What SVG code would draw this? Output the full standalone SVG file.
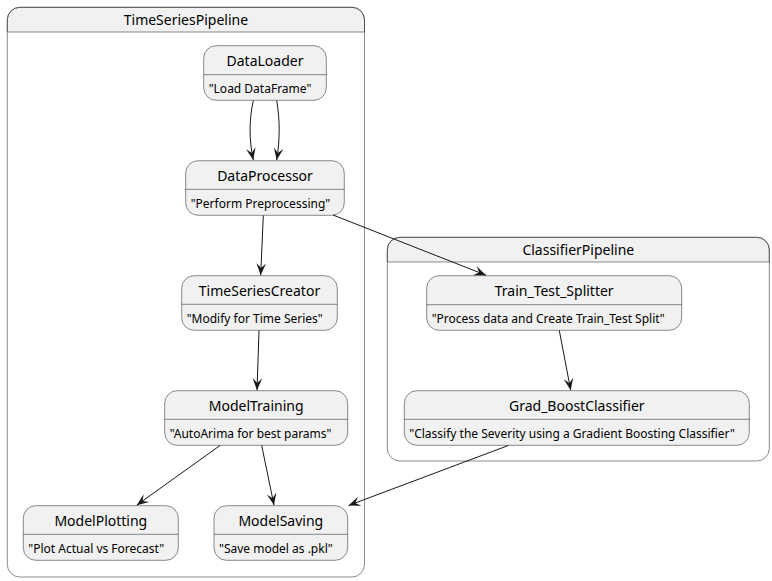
<svg xmlns="http://www.w3.org/2000/svg" width="772" height="581" viewBox="0 0 772 581">
<style>
.box{fill:#F1F1F1;stroke:#181818;stroke-width:0.5}
.cont{fill:none;stroke:#181818;stroke-width:0.5}
.hdr{fill:#F1F1F1;stroke:#181818;stroke-width:0.5}
.div{stroke:#181818;stroke-width:0.5}
.t{font-family:"Noto Sans","DejaVu Sans",sans-serif;font-size:14px;fill:#000;text-anchor:middle}
.d{font-family:"Noto Sans","DejaVu Sans",sans-serif;font-size:12px;fill:#000}
.e{fill:none;stroke:#181818;stroke-width:1}
</style>
<defs>
<marker id="ah" markerUnits="userSpaceOnUse" markerWidth="12" markerHeight="12" viewBox="0 0 10 10" refX="10" refY="5" orient="auto">
<path d="M0,1 L10,5 L0,9 L4,5 Z" fill="#181818"/>
</marker>
</defs>
<g id="TimeSeriesPipeline">
<path class="hdr" d="M7.3,32 L7.3,19.8 A12.5,12.5 0 0 1 19.8,7.3 L352,7.3 A12.5,12.5 0 0 1 364.5,19.8 L364.5,32 Z"/>
<rect class="cont" x="7.3" y="7.3" width="357.2" height="569.7" rx="12.5"/>
<text class="t" x="185.9" y="25.3">TimeSeriesPipeline</text>
</g>
<g id="ClassifierPipeline">
<path class="hdr" d="M387.3,262 L387.3,249.8 A12.5,12.5 0 0 1 399.8,237.3 L756.8,237.3 A12.5,12.5 0 0 1 769.3,249.8 L769.3,262 Z"/>
<rect class="cont" x="387.3" y="237.3" width="382" height="223.7" rx="12.5"/>
<text class="t" x="578.3" y="255.3">ClassifierPipeline</text>
</g>
<g id="DataLoader">
<rect class="box" x="203.7" y="45.7" width="122.6" height="54.6" rx="12.5"/>
<line class="div" x1="203.7" y1="74.7" x2="326.3" y2="74.7"/>
<text class="t" x="265" y="65.5">DataLoader</text>
<text class="d" x="208.7" y="92.5">"Load DataFrame"</text>
</g>
<g id="DataProcessor">
<rect class="box" x="185.7" y="160.7" width="158.6" height="54.6" rx="12.5"/>
<line class="div" x1="185.7" y1="189.3" x2="344.3" y2="189.3"/>
<text class="t" x="265" y="180.5">DataProcessor</text>
<text class="d" x="190.7" y="207.5">"Perform Preprocessing"</text>
</g>
<g id="TimeSeriesCreator">
<rect class="box" x="181.7" y="275.7" width="155.6" height="54.6" rx="12.5"/>
<line class="div" x1="181.7" y1="304.3" x2="337.3" y2="304.3"/>
<text class="t" x="259.5" y="295.5">TimeSeriesCreator</text>
<text class="d" x="186.7" y="322.5">"Modify for Time Series"</text>
</g>
<g id="ModelTraining">
<rect class="box" x="164.7" y="390.7" width="183" height="54.6" rx="12.5"/>
<line class="div" x1="164.7" y1="419.3" x2="347.7" y2="419.3"/>
<text class="t" x="256.2" y="410.5">ModelTraining</text>
<text class="d" x="169.7" y="437.5">"AutoArima for best params"</text>
</g>
<g id="ModelPlotting">
<rect class="box" x="23.3" y="505.7" width="155" height="54.6" rx="12.5"/>
<line class="div" x1="23.3" y1="534.3" x2="178.3" y2="534.3"/>
<text class="t" x="100.8" y="525.5">ModelPlotting</text>
<text class="d" x="28.3" y="552.5">"Plot Actual vs Forecast"</text>
</g>
<g id="ModelSaving">
<rect class="box" x="214" y="505.7" width="133.7" height="54.6" rx="12.5"/>
<line class="div" x1="214" y1="534.3" x2="347.7" y2="534.3"/>
<text class="t" x="280.8" y="525.5">ModelSaving</text>
<text class="d" x="219" y="552.5">"Save model as .pkl"</text>
</g>
<g id="Train_Test_Splitter">
<rect class="box" x="426.7" y="275.7" width="255" height="54.6" rx="12.5"/>
<line class="div" x1="426.7" y1="304.7" x2="681.7" y2="304.7"/>
<text class="t" x="554.2" y="295.5">Train_Test_Splitter</text>
<text class="d" x="431.7" y="322.5">"Process data and Create Train_Test Split"</text>
</g>
<g id="Grad_BoostClassifier">
<rect class="box" x="404.3" y="390.7" width="345" height="54.6" rx="12.5"/>
<line class="div" x1="404.3" y1="419.3" x2="749.3" y2="419.3"/>
<text class="t" x="576.8" y="410.5">Grad_BoostClassifier</text>
<text class="d" x="409.3" y="437.5">"Classify the Severity using a Gradient Boosting Classifier"</text>
</g>
<g id="connectors">
<path class="e" marker-end="url(#ah)" d="M253.3,100.5 C249,120 249,140 253.3,160"/>
<path class="e" marker-end="url(#ah)" d="M276.7,100.5 C280,120 280,140 276.7,160"/>
<path class="e" marker-end="url(#ah)" d="M263.3,215.5 L260.7,275.2"/>
<path class="e" marker-end="url(#ah)" d="M333,215 L486,275.2"/>
<path class="e" marker-end="url(#ah)" d="M259,330.5 L257,390.2"/>
<path class="e" marker-end="url(#ah)" d="M220,445.5 L136.7,505.2"/>
<path class="e" marker-end="url(#ah)" d="M261.7,445.5 L274,505.2"/>
<path class="e" marker-end="url(#ah)" d="M559.3,330.5 L570.7,390.2"/>
<path class="e" marker-end="url(#ah)" d="M508.3,445.5 L348.5,505.5"/>
</g>
</svg>
